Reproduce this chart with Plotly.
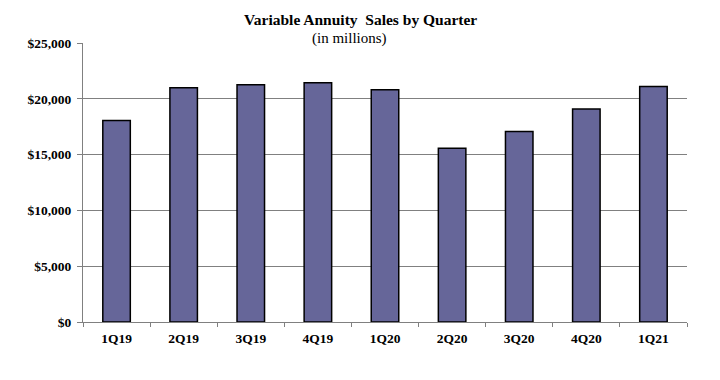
import plotly.graph_objects as go

quarters = ["1Q19", "2Q19", "3Q19", "4Q19", "1Q20", "2Q20", "3Q20", "4Q20", "1Q21"]
sales = [18050, 20980, 21250, 21430, 20800, 15580, 17060, 19090, 21100]
y_ticks = [0, 5000, 10000, 15000, 20000, 25000]
y_tick_labels = ["$" + f"{v:,}" for v in y_ticks]

fig = go.Figure()
fig.add_trace(go.Bar(
    x=quarters, y=sales,
    marker=dict(color="#666699", line=dict(color="#000000", width=1.5)),
    hoverinfo="x+y",
))

font_family = "Liberation Serif, Times New Roman, serif"

fig.update_layout(
    width=720, height=380,
    margin=dict(l=75, r=41, t=35, b=66, autoexpand=False),
    paper_bgcolor="white", plot_bgcolor="white",
    bargap=0.59,
    showlegend=False,
    font=dict(family=font_family, color="black"),
    annotations=[
        dict(text="<b>Variable Annuity\u00a0 Sales by Quarter</b>", xref="paper", yref="paper",
             x=0.459, y=1.0, yshift=24, xanchor="center", yanchor="middle",
             showarrow=False, font=dict(size=15.5, family=font_family)),
        dict(text="(in millions)", xref="paper", yref="paper",
             x=0.441, y=1.0, yshift=5, xanchor="center", yanchor="middle",
             showarrow=False, font=dict(size=15, family=font_family)),
    ],
)
fig.update_xaxes(
    showline=True, linecolor="#808080", linewidth=1,
    ticks="outside", tickson="boundaries", ticklen=4, tickcolor="#808080",
    tickfont=dict(size=13.5, family=font_family, weight="bold"),
    ticklabelstandoff=4,
    showgrid=False, fixedrange=True,
)
fig.update_yaxes(
    range=[0, 25000], tickvals=y_ticks, ticktext=y_tick_labels,
    showline=True, linecolor="#808080", linewidth=1,
    ticks="outside", ticklen=5, tickcolor="#808080",
    showgrid=True, gridcolor="#808080", gridwidth=1,
    zeroline=False,
    tickfont=dict(size=13.5, family=font_family, weight="bold"),
    ticklabelstandoff=3,
    fixedrange=True,
)

fig.write_html("out.html")
